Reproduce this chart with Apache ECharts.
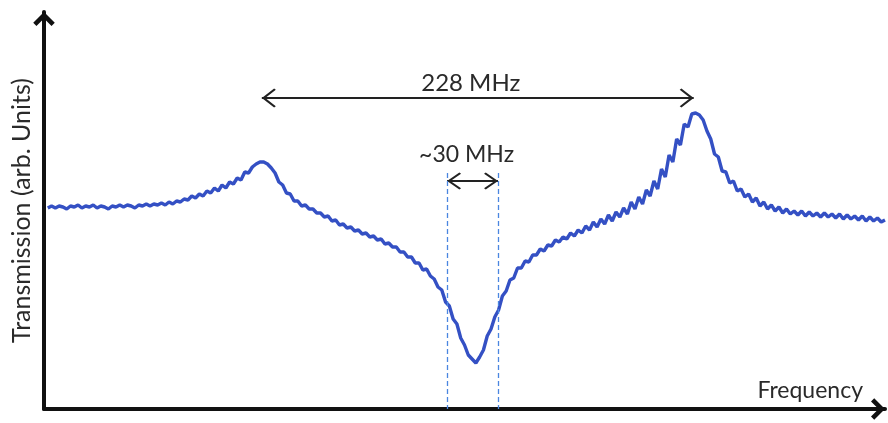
<!DOCTYPE html>
<html>
<head>
<meta charset="utf-8">
<script src="https://cdn.jsdelivr.net/npm/echarts@6/dist/echarts.min.js"></script>
<style>html,body{margin:0;padding:0;background:#fff;}#chart{width:888px;height:423px;}</style>
</head>
<body>
<div id="chart"></div>
<script>
// Frequency sweep (MHz, relative)
var frequency = [
2,4,6,8,10,12,14,16,18,20,22,24,26,28,30,32,34,36,38,40,
42,44,46,48,50,52,54,56,58,60,62,64,66,68,70,72,74,76,78,80,
82,84,86,88,90,92,94,96,98,100,102,104,106,108,110,112,114,116,118,120,
122,124,126,128,130,132,134,136,138,140,142,144,146,148,150,152,154,156,158,160,
162,164,166,168,170,172,174,176,178,180,182,184,186,188,190,192,194,196,198,200,
202,204,206,208,210,212,214,216,218,220,222,224,226,228,230,232,234,236,238,240,
242,244,246,248,250,252,254,256,258,260,262,264,266,268,270,272,274,276,278,280,
282,284,286,288,290,292,294,296,298,300,302,304,306,308,310,312,314,316,318,320,
322,324,326,328,330,332,334,336,338,340,342,344,346,348,350,352,354,356,358,360,
362,364,366,368,370,372,374,376,378,380,382,384,386,388,390,392,394,396,398,400,
402,404,406,408,410,412,414,416,418,420,422,424,426,428,430,432,434,436,438,440,
442,444
];
// Transmission (arb. units)
var transmission = [
201,203,201,203,202,200,203,202,204,201,203,202,204,201,203,202,200,203,202,204,
202,204,203,201,204,203,205,203,205,204,206,204,207,205,208,207,210,209,213,211,
215,213,218,216,221,218,224,221,227,225,231,229,237,236,242,245,247,247,245,241,
236,227,224,216,215,208,208,203,204,200,200,196,196,192,193,188,189,184,185,181,
182,178,179,175,176,172,173,169,170,165,166,162,162,157,157,152,152,146,146,139,
140,133,130,122,119,107,103,90,85,71,64,54,50,46,52,59,73,80,92,99,
113,118,129,131,141,141,148,147,154,154,160,158,164,163,169,167,172,170,176,173,
179,176,183,179,187,182,190,185,194,188,197,192,201,195,207,200,212,205,219,213,
228,220,240,232,254,247,270,264,285,282,295,296,294,289,278,270,255,252,238,237,
226,228,218,220,212,215,207,211,203,207,200,204,198,202,196,200,195,198,194,198,
193,197,193,196,192,196,192,195,191,195,190,194,190,193,189,193,188,192,188,191,
187,189
];
// Annotations
var peakPositions = [115, 343];      // the two transmission peaks (228 MHz apart)
var peakSpanLevel = 311;
var peakSpanLabel = '228 MHz';
var dipEdges = [212.8, 239.7];       // width of the central dip (~30 MHz)
var dipSpanLevel = 228;
var dipSpanLabel = '~30 MHz';
var dipGuideRange = [236, 0];
var axisNames = ['Frequency', 'Transmission (arb. Units)'];

var FONT = 'Lato, "Open Sans", sans-serif';
var axisArrow = 'path://M10,0 L20,10 L17,13 L10,6 L3,13 L0,10 Z';
var thinArrow = 'path://M10,0 L20,10 L18.6,11.4 L10,2.8 L1.4,11.4 L0,10 Z';

var seriesData = frequency.map(function (f, i) { return [f, transmission[i]]; });
var guideStyle = {color: '#4a86e0', width: 1.3, type: [5, 3]};

var chart = echarts.init(document.getElementById('chart'), null, {renderer: 'canvas'});
chart.setOption({
  animation: false,
  backgroundColor: '#ffffff',
  grid: {left: 44, right: 3, top: 12, bottom: 14, containLabel: false},
  xAxis: {
    type: 'value', min: 0, max: 444,
    name: axisNames[0], nameLocation: 'end', nameGap: -22,
    nameTextStyle: {fontFamily: FONT, fontSize: 23, color: '#2a2a2a', align: 'right', verticalAlign: 'bottom', padding: [0, 0, 7, 0]},
    axisLine: {show: true, onZero: false, lineStyle: {color: '#111', width: 4},
      symbol: ['none', axisArrow], symbolSize: [22, 14], symbolOffset: [0, -7]},
    axisTick: {show: false}, axisLabel: {show: false}, splitLine: {show: false}
  },
  yAxis: {
    type: 'value', min: 0, max: 397,
    name: axisNames[1], nameLocation: 'middle', nameRotate: 90, nameGap: 10,
    nameTextStyle: {fontFamily: FONT, fontSize: 25, color: '#2a2a2a'},
    axisLine: {show: true, onZero: false, lineStyle: {color: '#111', width: 4},
      symbol: ['none', axisArrow], symbolSize: [22, 14], symbolOffset: [0, -7]},
    axisTick: {show: false}, axisLabel: {show: false}, splitLine: {show: false}
  },
  series: [{
    type: 'line',
    data: seriesData,
    showSymbol: false,
    clip: false,
    lineStyle: {color: '#3450c4', width: 3.4},
    z: 3,
    markLine: {
      silent: true,
      animation: false,
      data: [
        [
          {coord: [peakPositions[0], peakSpanLevel], symbol: thinArrow, symbolSize: [19, 14], symbolOffset: [0, 7],
           lineStyle: {color: '#222', width: 1.8, type: 'solid'},
           label: {show: true, position: 'middle', formatter: peakSpanLabel, fontFamily: FONT, fontSize: 24, color: '#2a2a2a', distance: 3, offset: [-7, 0]}},
          {coord: [peakPositions[1], peakSpanLevel], symbol: thinArrow, symbolSize: [19, 14], symbolOffset: [0, 7]}
        ],
        [
          {coord: [dipEdges[0], dipSpanLevel], symbol: thinArrow, symbolSize: [17, 14], symbolOffset: [0, 7],
           lineStyle: {color: '#222', width: 1.8, type: 'solid'},
           label: {show: true, position: 'middle', formatter: dipSpanLabel, fontFamily: FONT, fontSize: 23, color: '#2a2a2a', distance: 15, offset: [-6, 0]}},
          {coord: [dipEdges[1], dipSpanLevel], symbol: thinArrow, symbolSize: [17, 14], symbolOffset: [0, 7]}
        ],
        [
          {coord: [dipEdges[0], dipGuideRange[0]], symbol: 'none', lineStyle: guideStyle, label: {show: false}},
          {coord: [dipEdges[0], dipGuideRange[1]], symbol: 'none'}
        ],
        [
          {coord: [dipEdges[1], dipGuideRange[0]], symbol: 'none', lineStyle: guideStyle, label: {show: false}},
          {coord: [dipEdges[1], dipGuideRange[1]], symbol: 'none'}
        ]
      ]
    }
  }]
});
</script>
</body>
</html>
